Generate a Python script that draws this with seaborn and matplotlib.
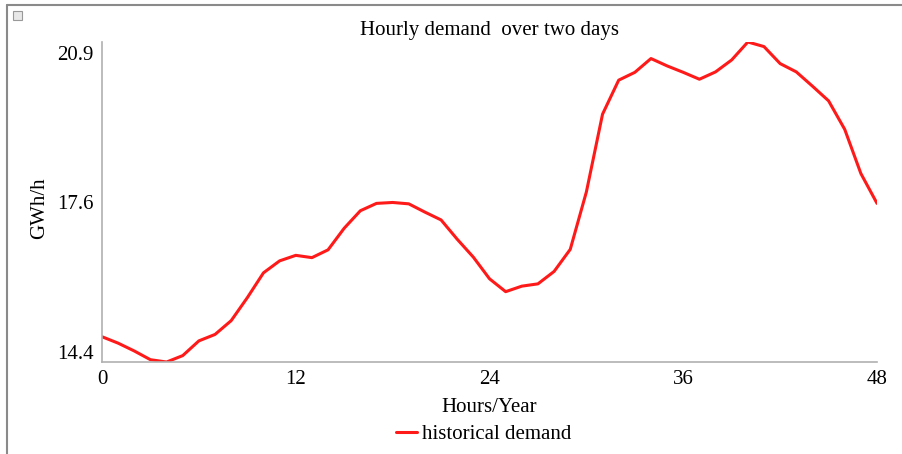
import numpy as np
import pandas as pd
import matplotlib
matplotlib.use('Agg')
import matplotlib.pyplot as plt
import seaborn as sns
from matplotlib.lines import Line2D
from matplotlib.patches import Rectangle

# Data
hours = list(range(49))
demand = [14.73, 14.59, 14.42, 14.23, 14.18, 14.32, 14.64, 14.78, 15.08, 15.58,
          16.12, 16.38, 16.50, 16.45, 16.62, 17.09, 17.47, 17.63, 17.65, 17.62,
          17.44, 17.27, 16.85, 16.46, 15.99, 15.71, 15.83, 15.88, 16.15, 16.63,
          17.88, 19.57, 20.31, 20.48, 20.78, 20.62, 20.48, 20.33, 20.49, 20.75,
          21.14, 21.04, 20.67, 20.49, 20.18, 19.86, 19.24, 18.28, 17.63]
x_ticks = [0, 12, 24, 36, 48]
y_ticks = [14.4, 17.65, 20.9]
y_tick_labels = ['14.4', '17.6', '20.9']

df = pd.DataFrame({'hour': hours, 'demand': demand})

sns.set_style('white')
plt.rcParams['font.family'] = ['Liberation Serif', 'DejaVu Serif']
plt.rcParams['text.color'] = 'black'
plt.rcParams['axes.labelcolor'] = 'black'

LINE_COLOR = '#ff1a1a'
FS = 15

fig = plt.figure(figsize=(9.02, 4.54), dpi=100)
ax = fig.add_axes([0.1131, 0.2026, 0.8592, 0.7049])

sns.lineplot(data=df, x='hour', y='demand', ax=ax, color=LINE_COLOR,
             linewidth=2.2, label='historical demand', legend=False)

ax.set_xlim(0, 48)
ax.set_ylim(min(demand), max(demand))
ax.set_xticks(x_ticks)
ax.set_xticklabels([str(t) for t in x_ticks])
ax.set_yticks(y_ticks)
ax.set_yticklabels(y_tick_labels)
ax.tick_params(axis='both', length=0, labelsize=FS, colors='black')
ax.tick_params(axis='x', pad=6)
ax.tick_params(axis='y', pad=6)

for side in ['top', 'right']:
    ax.spines[side].set_visible(False)
for side in ['left', 'bottom']:
    ax.spines[side].set_color('#b0b0b0')
    ax.spines[side].set_linewidth(1.2)

ax.set_title('Hourly demand  over two days', fontsize=FS, pad=5)
ax.set_xlabel('Hours/Year', fontsize=FS, labelpad=6)
ax.set_ylabel('GWh/h', fontsize=FS, labelpad=6)
ax.yaxis.label.set_y(0.48)

handle = Line2D([], [], color=LINE_COLOR, linewidth=2.2)
fig.legend([handle], ['historical demand'], loc='center',
           bbox_to_anchor=(0.536, 0.044), frameon=False, fontsize=FS,
           handlelength=1.0, handletextpad=0.25)

# outer frame (top and left edges) and small icon
fig.add_artist(Line2D([0.0078, 1.0], [0.989, 0.989], transform=fig.transFigure,
                      color='#8a8a8a', linewidth=1.5))
fig.add_artist(Line2D([0.0078, 0.0078], [0.0, 0.989], transform=fig.transFigure,
                      color='#8a8a8a', linewidth=1.5))
fig.add_artist(Rectangle((0.0144, 0.956), 0.0095, 0.019, transform=fig.transFigure,
                         facecolor='#e8e8e8', edgecolor='#999999', linewidth=0.8))

fig.savefig('out.png', dpi=100)
plt.close(fig)
